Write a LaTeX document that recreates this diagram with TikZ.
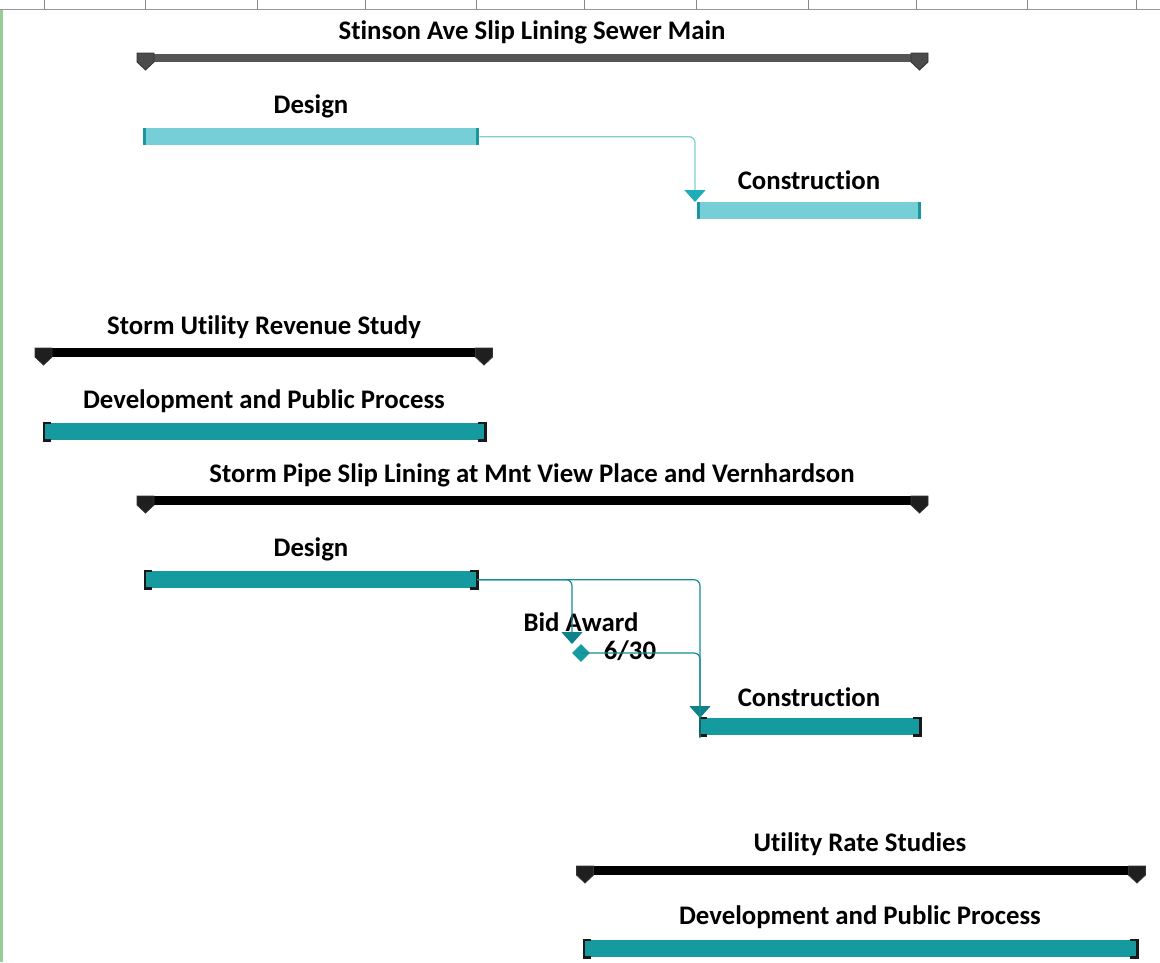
\documentclass[tikz,border=0pt]{standalone}
\usepackage{fontspec}
\setmainfont{Carlito}[Ligatures=NoCommon]
\usetikzlibrary{arrows.meta}
\definecolor{tealdark}{RGB}{21,154,160}
\definecolor{tealline}{RGB}{24,140,148}
\definecolor{tealarrow}{RGB}{14,130,138}
\definecolor{teallight}{RGB}{118,206,214}
\definecolor{tealcap}{RGB}{26,150,160}
\definecolor{lightline}{RGB}{125,207,214}
\definecolor{lightarrow}{RGB}{32,172,184}
\definecolor{greysum}{RGB}{85,85,85}
\definecolor{greymark}{RGB}{75,75,75}
\definecolor{axisgrey}{RGB}{150,150,150}
\definecolor{leftgreen}{RGB}{150,205,150}
\newcommand\gmarker[3]{\filldraw[fill=#3,draw=black!80,line width=0.8pt] (#1-8.5,#2) -- ++(17,0) -- ++(0,9) -- ++(-8.5,8) -- ++(-8.5,-8) -- cycle;}
\begin{document}
\begin{tikzpicture}[x=1pt,y=-1pt,
  lbl/.style={font=\bfseries\fontsize{26.8}{30}\selectfont,inner sep=0pt},
  sumgrey/.style={rectangle,fill=greysum,inner sep=0pt,anchor=north west,minimum height=8},
  sumblack/.style={rectangle,fill=black,inner sep=0pt,anchor=north west,minimum height=9},
  tealbar/.style={rectangle,fill=tealdark,inner sep=0pt,anchor=north west,minimum height=17},
  lightbar/.style={rectangle,fill=teallight,inner sep=0pt,anchor=north west,minimum height=17},
  bracket/.style={draw=black!90,line width=2.2pt},
  lightconn/.style={draw=lightline,line width=1.3pt,rounded corners=6,-{Triangle[width=21pt,length=12pt,fill=lightarrow,color=lightarrow]}},
  tealconn/.style={draw=tealline,line width=1.2pt,rounded corners=6,-{Triangle[width=21pt,length=12pt,fill=tealarrow,color=tealarrow]}},
  tealplain/.style={draw=tealline,line width=1.2pt,rounded corners=6}]
\useasboundingbox (0,0) rectangle (1160,962);
\fill[white] (0,0) rectangle (1160,962);
% axis
\draw[axisgrey,line width=1.6pt] (0,9.5) -- (1160,9.5);
\foreach \x in {44,145,257,365,476,584,696,808,916,1027,1136} \draw[axisgrey!90!black,line width=0.7pt] (\x,0) -- (\x,9);
\draw[leftgreen,line width=2.2pt] (1.5,10.3) -- (1.5,962);

% ---- Stinson Ave
\node[sumgrey,minimum width=791] (s1) at (137,54) {};
\gmarker{145.5}{53}{greymark}
\gmarker{919.5}{53}{greymark}
\node[lbl] (s1l) at (532,32) {Stinson Ave Slip Lining Sewer Main};

\node[lightbar,minimum width=336] (d1) at (143,128) {};
\fill[tealcap] (d1.north west) rectangle ([xshift=3]d1.south west);
\fill[tealcap] ([xshift=-3]d1.north east) rectangle (d1.south east);
\node[lbl] (d1l) at (311,106) {Design};

\node[lightbar,minimum width=224] (c1) at (697,202) {};
\fill[tealcap] (c1.north west) rectangle ([xshift=3]c1.south west);
\fill[tealcap] ([xshift=-3]c1.north east) rectangle (c1.south east);
\node[lbl] (c1l) at (809,180) {Construction};

\coordinate (c1in) at ([xshift=-2]c1.north west);
\draw[lightconn] (d1.east) -| (c1in);

% ---- Storm Utility Revenue Study
\node[sumblack,minimum width=458] (s2) at (35,348) {};
\gmarker{43.5}{348}{black!88}
\gmarker{484}{348}{black!88}
\node[lbl] (s2l) at (264,327) {Storm Utility Revenue Study};

\node[tealbar,minimum width=441] (p1) at (44,423) {};
\draw[bracket] ([xshift=7]p1.north west) -- (p1.north west) -- (p1.south west) -- ([xshift=7]p1.south west);
\draw[bracket] ([xshift=-7]p1.north east) -- (p1.north east) -- (p1.south east) -- ([xshift=-7]p1.south east);
\node[lbl] (p1l) at (264,401) {Development and Public Process};

% ---- Storm Pipe
\node[sumblack,minimum width=791] (s3) at (137,496) {};
\gmarker{145.5}{496}{black!88}
\gmarker{919.5}{496}{black!88}
\node[lbl] (s3l) at (532,475) {Storm Pipe Slip Lining at Mnt View Place and Vernhardson};

\node[tealbar,minimum width=332] (d2) at (145,571) {};
\draw[bracket] ([xshift=7]d2.north west) -- (d2.north west) -- (d2.south west) -- ([xshift=7]d2.south west);
\draw[bracket] ([xshift=-7]d2.north east) -- (d2.north east) -- (d2.south east) -- ([xshift=-7]d2.south east);
\node[lbl] (d2l) at (311,549) {Design};

\node[fill=tealdark,rotate=45,minimum size=12.5,inner sep=0pt] (ms) at (581,653) {};
\node[lbl] (msl) at (581,622) {Bid Award};
\node[lbl] (msd) at (630,651) {6/30};

\node[tealbar,minimum width=220] (c2) at (700,718) {};
\draw[bracket] ([xshift=7]c2.north west) -- (c2.north west) -- (c2.south west) -- ([xshift=7]c2.south west);
\draw[bracket] ([xshift=-7]c2.north east) -- (c2.north east) -- (c2.south east) -- ([xshift=-7]c2.south east);
\node[lbl] (c2l) at (809,697) {Construction};

\coordinate (msin) at (572,644);
\coordinate (c2in) at (700,718);
\draw[tealconn] (d2.east) -| (msin);
\draw[tealconn] (d2.east) -| (c2in);
\draw[tealplain] (ms.center) -| ([yshift=-20]c2in);

% ---- Utility Rate Studies
\node[sumblack,minimum width=570] (s4) at (576,866) {};
\gmarker{585}{866}{black!88}
\gmarker{1137}{866}{black!88}
\node[lbl] (s4l) at (860,844) {Utility Rate Studies};

\node[tealbar,minimum width=553] (p2) at (584,940) {};
\draw[bracket] ([xshift=7]p2.north west) -- (p2.north west) -- (p2.south west) -- ([xshift=7]p2.south west);
\draw[bracket] ([xshift=-7]p2.north east) -- (p2.north east) -- (p2.south east) -- ([xshift=-7]p2.south east);
\node[lbl] (p2l) at (860,917) {Development and Public Process};
\end{tikzpicture}
\end{document}
